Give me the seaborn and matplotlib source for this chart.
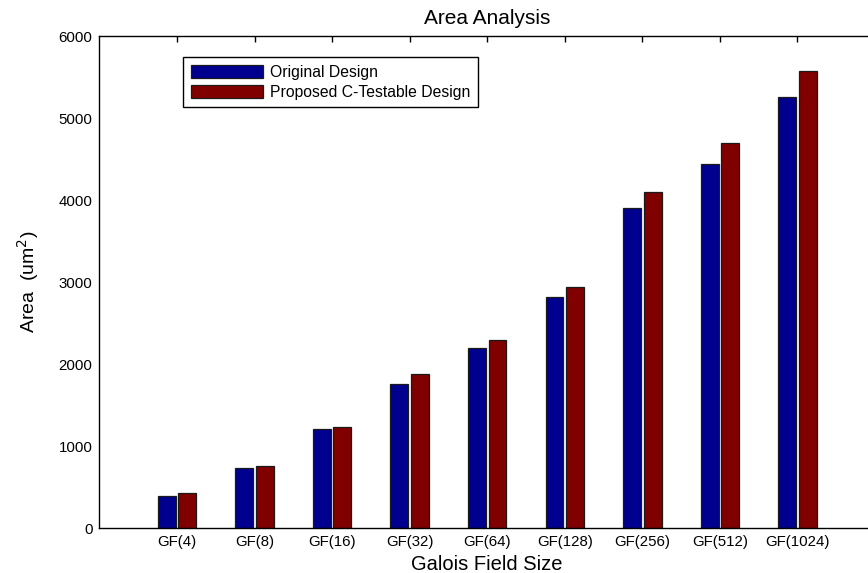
import numpy as np
import pandas as pd
import matplotlib
matplotlib.use('Agg')
import matplotlib.pyplot as plt
import seaborn as sns

# %% data
fields = ['GF(4)', 'GF(8)', 'GF(16)', 'GF(32)', 'GF(64)', 'GF(128)', 'GF(256)', 'GF(512)', 'GF(1024)']
original = [395, 732, 1204, 1752, 2191, 2821, 3906, 4435, 5260]
proposed = [430, 760, 1236, 1874, 2293, 2943, 4101, 4699, 5577]
designs = ['Original Design', 'Proposed C-Testable Design']

df = pd.DataFrame({
    'field': fields * 2,
    'area': original + proposed,
    'design': [designs[0]] * len(fields) + [designs[1]] * len(fields),
})

# %% plot
sns.set_theme(style='white')
plt.rcParams['font.family'] = ['Liberation Sans', 'DejaVu Sans']
plt.rcParams['text.color'] = 'black'
plt.rcParams['axes.labelcolor'] = 'black'

fig = plt.figure(figsize=(8.68, 5.73), dpi=100)
ax = fig.add_axes([99.4 / 868, 1 - 528 / 573, (875 - 99.4) / 868, (528 - 36) / 573])

sns.barplot(data=df, x='field', y='area', hue='design', order=fields, hue_order=designs,
            palette=['#00008f', '#800000'], saturation=1, width=0.53, gap=0.13,
            edgecolor='#1a1a1a', linewidth=0.9, ax=ax)

ax.set_xlim(-1, 9)
ax.set_ylim(0, 6000)
ax.set_yticks(range(0, 6001, 1000))
for s in ax.spines.values():
    s.set_visible(True)
    s.set_color('black')
    s.set_linewidth(1.0)
ax.tick_params(direction='in', top=True, right=True, length=4, width=1,
               labelsize=10.8, colors='black', pad=5)

ax.set_title('Area Analysis', fontsize=15, pad=9, color='black')
ax.set_xlabel('Galois Field Size', fontsize=14.5, labelpad=4)
ax.set_ylabel('Area  (um$^2$)', fontsize=14, labelpad=13)

handles, labels = ax.get_legend_handles_labels()
leg = ax.legend(handles, labels, loc='upper left', bbox_to_anchor=(183 / 868, 1 - 57 / 573),
                bbox_transform=fig.transFigure, fontsize=11.3, frameon=True, fancybox=False,
                handlelength=4.6, handleheight=0.9, handletextpad=0.45, borderpad=0.5,
                labelspacing=0.3, borderaxespad=0)
leg.get_frame().set_edgecolor('black')
leg.get_frame().set_linewidth(1.0)
leg.get_frame().set_alpha(1)
for t in leg.get_texts():
    t.set_color('black')

plt.savefig('out.png', dpi=100)
